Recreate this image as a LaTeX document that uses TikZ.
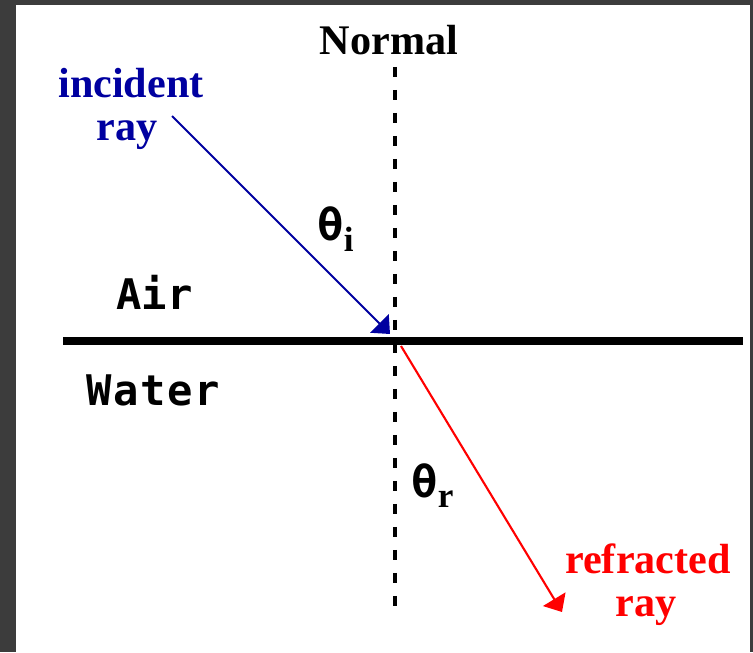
\documentclass[tikz,border=0pt]{standalone}
\usepackage{fontspec}
\usepackage{xcolor}
\usepackage{tikz}
\usetikzlibrary{arrows.meta,positioning}

\newfontfamily\serifbold{Liberation Serif Bold}
\newfontfamily\monobold{DejaVu Sans Mono Bold}

\definecolor{frame}{RGB}{60,60,60}
\definecolor{incblue}{RGB}{0,0,160}
\definecolor{refred}{RGB}{255,0,0}

\begin{document}
\begin{tikzpicture}[
    x=0.02cm, y=-0.02cm,
    serif/.style={inner sep=0pt, anchor=base, font=\fontsize{24}{26}\serifbold},
    medium/.style={inner sep=0pt, anchor=base west, font=\fontsize{24}{26}\monobold},
    angle/.style={inner sep=0pt, anchor=base west, font=\fontsize{25}{27}\monobold},
    ray/.style={line width=1.2pt, -{Triangle[length=0.3cm, width=0.52cm]}}
]
    \fill [frame] (0,0) rectangle (753,652);
    \fill [white] (16,5) rectangle (750,652);
    \useasboundingbox (0,0) rectangle (753,652);

    \coordinate (top) at (395,67);
    \coordinate (bottom) at (395,616);
    \coordinate (left) at (63,341);
    \coordinate (right) at (743,341);
    \coordinate (hit) at (395,341);
    \coordinate (inc) at (172,116);
    \coordinate (incend) at (390,334);
    \coordinate (refstart) at (401,346);
    \coordinate (refend) at (562,612);

    \draw [line width=4pt] (left) -- (right);
    \draw [line width=2.1pt, dash pattern=on 0.21cm off 0.25cm] (top) -- (bottom);

    \draw [ray, draw=incblue, fill=incblue] (inc) -- (incend);
    \draw [ray, draw=refred, fill=refred] (refstart) -- (refend);

    \node [serif] (normal) at (389,55) {Normal};
    \node [serif, text=incblue] (inclabel) at (131,97) {incident};
    \node [serif, text=incblue] (incray) at (127,140) {ray};
    \node [serif, text=refred] (reflabel) at (648,573) {refracted};
    \node [serif, text=refred] (refray) at (646,616) {ray};

    \node [medium] (air) at (116,309) {Air};
    \node [medium] (water) at (86,405) {W\kern1pt a\kern1pt t\kern1pt e\kern1pt r};

    \node [angle] (thetai) at (317,240) {θ\raisebox{-0.22cm}{\fontsize{20}{22}\serifbold i}};
    \node [angle] (thetar) at (411,497) {θ\raisebox{-0.2cm}{\fontsize{20}{22}\serifbold r}};
\end{tikzpicture}
\end{document}
